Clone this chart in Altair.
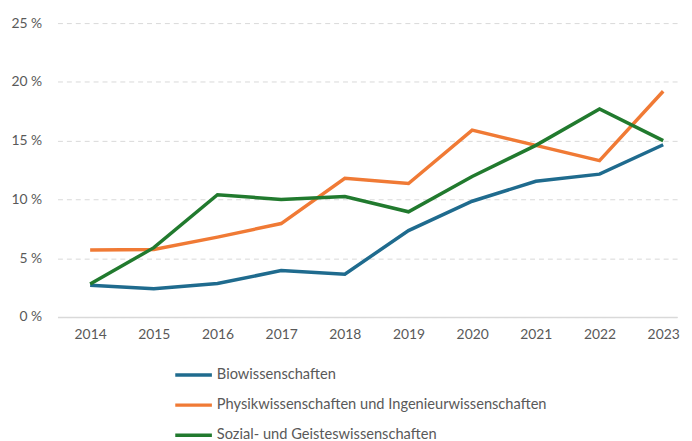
import altair as alt
import pandas as pd

years = [2014, 2015, 2016, 2017, 2018, 2019, 2020, 2021, 2022, 2023]
bio = [2.7, 2.4, 2.85, 3.95, 3.65, 7.35, 9.85, 11.55, 12.15, 14.65]
phys = [5.7, 5.75, 6.8, 7.95, 11.8, 11.35, 15.9, 14.6, 13.3, 19.2]
soz = [2.8, 5.9, 10.4, 10.0, 10.25, 8.95, 11.95, 14.6, 17.7, 15.0]
series = ["Biowissenschaften",
          "Physikwissenschaften und Ingenieurwissenschaften",
          "Sozial- und Geisteswissenschaften"]
colors = ["#1f6b8e", "#f07a35", "#217a2e"]

rows = []
for name, vals in zip(series, [bio, phys, soz]):
    for y, v in zip(years, vals):
        rows.append({"Jahr": y, "Wert": v, "Serie": name})
df = pd.DataFrame(rows)

FONT = "Lato"
GREY = "#595959"

chart = alt.Chart(df).mark_line(strokeWidth=3.5, strokeCap="butt", strokeJoin="miter").encode(
    x=alt.X("Jahr:Q",
            scale=alt.Scale(domain=[2013.487, 2023.218], nice=False, zero=False),
            axis=alt.Axis(values=years, format="d", title=None, grid=False, ticks=False,
                          domain=True, domainColor="#d9d9d9", domainWidth=1.5,
                          labelPadding=11, labelFontSize=14, labelColor=GREY, labelFont=FONT,
                          labelOverlap=False)),
    y=alt.Y("Wert:Q",
            scale=alt.Scale(domain=[0, 25], nice=False),
            axis=alt.Axis(values=[0, 5, 10, 15, 20, 25], labelExpr="datum.value + '\u202f%'",
                          title=None, ticks=False, domain=False, grid=True,
                          gridColor="#d9d9d9", gridDash=[5, 4], gridWidth=1,
                          labelPadding=16, labelFontSize=14, labelColor=GREY, labelFont=FONT)),
    color=alt.Color("Serie:N",
                    scale=alt.Scale(domain=series, range=colors),
                    legend=alt.Legend(title=None, orient="none", legendX=117, legendY=335,
                                      direction="vertical", symbolType="stroke",
                                      symbolSize=1369, symbolStrokeWidth=3.5,
                                      labelFontSize=14.8, labelColor=GREY, labelFont=FONT,
                                      labelOffset=3, rowPadding=2.5, labelLimit=600)),
).properties(
    width=626, height=297,
    padding={"left": 50, "top": 13, "right": 7, "bottom": 123},
    autosize=alt.AutoSizeParams(type="none"),
).configure_view(stroke=None)

chart.save("out.html", embed_options={"renderer": "svg", "actions": False})
